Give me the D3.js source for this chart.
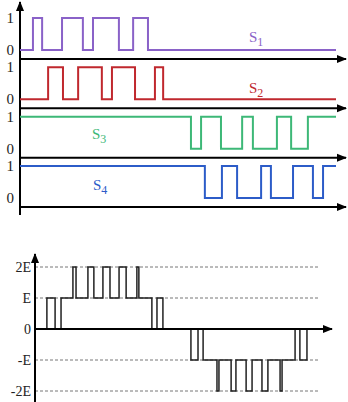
<!DOCTYPE html>
<html>
<head>
<meta charset="utf-8">
<script src="https://cdn.jsdelivr.net/npm/d3@7"></script>
<style>
  body { margin: 0; background: #fff; }
  svg { display: block; }
  text { font-family: "Liberation Serif", "DejaVu Serif", serif; }
</style>
</head>
<body>
<svg width="348" height="402"></svg>
<script>
// switching signals, time in % of period; each signal toggles at its edges
var signalNames  = ['1', '2', '3', '4'];
var signalStart  = [0, 0, 1, 1];
var signalEdges  = [
  [4.1, 7.0, 13.3, 19.9, 23.1, 31.3, 35.8, 40.5],
  [8.9, 13.6, 18.4, 25.9, 29.1, 36.4, 42.7, 45.3],
  [54.1, 57.3, 63.6, 70.3, 73.7, 81.3, 85.8, 91.1],
  [58.5, 63.9, 68.7, 76.3, 79.4, 86.4, 92.7, 95.9]
];
var levelTicks   = ['0', '1'];

// output voltage (in units of E)
var outTimes  = [0, 4.2, 7.1, 9.2, 13.4, 14.5, 18.7, 20.8, 24.0, 26.5, 29.7, 32.2, 36.0, 36.7,
                 41.3, 43.1, 45.2, 55.1, 57.6, 59.4, 64.3, 65.0, 69.3, 71.0, 74.6, 76.7,
                 80.2, 82.3, 86.6, 87.3, 91.9, 93.6, 96.1, 100];
var outLevels = [0, 1, 0, 1, 2, 1, 2, 1, 2, 1, 2, 1, 2, 1,
                 0, 1, 0, -1, 0, -1, -2, -1, -2, -1, -2, -1,
                 -2, -1, -2, -1, 0, -1, 0, 0];
var outTicks  = [2, 1, 0, -1, -2];
var outTickLabels = ['2E', 'E', '0', '-E', '-2E'];

var colors = ['#8a62c8', '#c0282e', '#3db877', '#2c5cc8'];

var svg = d3.select('svg');

var defs = svg.append('defs');
defs.append('marker')
    .attr('id', 'arr')
    .attr('viewBox', '0 -5 10 10')
    .attr('refX', 9).attr('refY', 0)
    .attr('markerUnits', 'userSpaceOnUse')
    .attr('markerWidth', 10).attr('markerHeight', 10)
    .attr('orient', 'auto')
  .append('path')
    .attr('d', 'M0,-4L10,0L0,4Z')
    .attr('fill', '#000');

// ---------- top panel ----------
var x1 = d3.scaleLinear().domain([0, 100]).range([20, 336]);
var row = d3.scaleLinear().domain([0, 3]).range([50, 198]);
var lvl = d3.scaleLinear().domain([0, 1]).range([0, -32]);

var gTop = svg.append('g');

signalNames.forEach(function(name, i) {
  var base = row(i) + 9;
  gTop.append('line')
     .attr('x1', 20).attr('x2', 346)
     .attr('y1', base).attr('y2', base)
     .attr('stroke', '#000').attr('stroke-width', 2)
     .attr('marker-end', 'url(#arr)');
});

gTop.append('line')
   .attr('x1', 20).attr('x2', 20)
   .attr('y1', 215).attr('y2', 2)
   .attr('stroke', '#000').attr('stroke-width', 2)
   .attr('marker-end', 'url(#arr)');

var step = d3.line().curve(d3.curveStepAfter);

signalNames.forEach(function(name, i) {
  var v = signalStart[i];
  var pts = [[0, v]];
  signalEdges[i].forEach(function(t) { v = 1 - v; pts.push([t, v]); });
  pts.push([100, v]);
  var y0 = row(i);
  gTop.append('path')
     .attr('d', step(pts.map(function(p) { return [x1(p[0]), y0 + lvl(p[1])]; })))
     .attr('fill', 'none')
     .attr('stroke', colors[i])
     .attr('stroke-width', 2);

  levelTicks.forEach(function(lab) {
    gTop.append('text')
       .attr('x', 14).attr('y', y0 + lvl(+lab) + 5)
       .attr('text-anchor', 'end')
       .attr('font-size', 15)
       .attr('fill', '#222')
       .text(lab);
  });
});

var labelPos = [[249, 42], [249, 93], [92, 139], [93, 190]];
signalNames.forEach(function(name, i) {
  var t = gTop.append('text')
     .attr('x', labelPos[i][0]).attr('y', labelPos[i][1])
     .attr('font-size', 15)
     .attr('fill', colors[i]);
  t.append('tspan').text('S');
  t.append('tspan').attr('dy', 4).attr('font-size', 12).text(name);
});

// ---------- bottom panel ----------
var x2 = d3.scaleLinear().domain([0, 100]).range([35, 318]);
var y2 = d3.scaleLinear().domain([-2, 2]).range([391, 267]);

var gBot = svg.append('g');

outTicks.forEach(function(d, i) {
  if (d !== 0) {
    gBot.append('line')
       .attr('x1', 35).attr('x2', x2(100))
       .attr('y1', y2(d)).attr('y2', y2(d))
       .attr('stroke', '#777').attr('stroke-width', 1)
       .attr('stroke-dasharray', '3,2');
  }
  gBot.append('text')
     .attr('x', 31).attr('y', y2(d) + 5)
     .attr('text-anchor', 'end')
     .attr('font-size', 14)
     .attr('fill', '#222')
     .text(outTickLabels[i]);
});

gBot.append('path')
   .attr('d', step(outTimes.map(function(t, i) { return [x2(t), y2(outLevels[i])]; })))
   .attr('fill', 'none')
   .attr('stroke', '#222')
   .attr('stroke-width', 1.5);

gBot.append('line')
   .attr('x1', 35).attr('x2', 332)
   .attr('y1', y2(0)).attr('y2', y2(0))
   .attr('stroke', '#000').attr('stroke-width', 2)
   .attr('marker-end', 'url(#arr)');

gBot.append('line')
   .attr('x1', 35).attr('x2', 35)
   .attr('y1', 402).attr('y2', 254)
   .attr('stroke', '#000').attr('stroke-width', 2)
   .attr('marker-end', 'url(#arr)');
</script>
</body>
</html>
